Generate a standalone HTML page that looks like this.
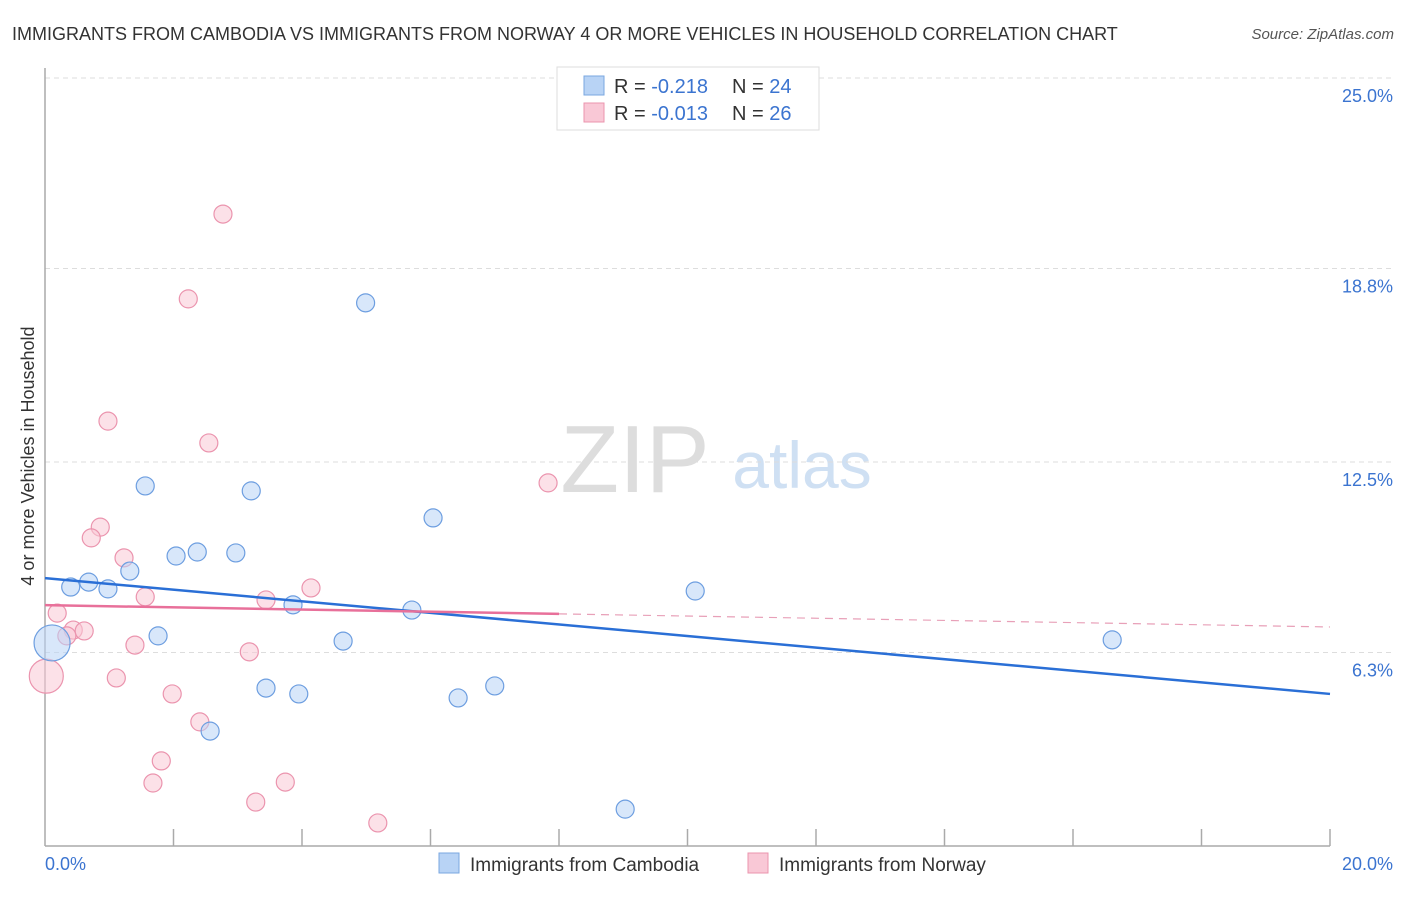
<!DOCTYPE html>
<html><head><meta charset="utf-8"><style>
body{margin:0;background:#fff;font-family:"Liberation Sans",sans-serif;}
svg text{font-family:"Liberation Sans",sans-serif;}
</style></head><body>
<svg width="1406" height="892" viewBox="0 0 1406 892">
<text x="12" y="40" font-size="18" fill="#333">IMMIGRANTS FROM CAMBODIA VS IMMIGRANTS FROM NORWAY 4 OR MORE VEHICLES IN HOUSEHOLD CORRELATION CHART</text>
<text x="1394" y="39" font-size="15" fill="#555" font-style="italic" text-anchor="end">Source: ZipAtlas.com</text>
<text x="635" y="492" font-size="96" fill="#ddd" text-anchor="middle" font-family="Liberation Serif,serif">ZIP</text>
<text x="802" y="488" font-size="66" fill="#cfe0f3" text-anchor="middle">atlas</text>
<g id="grid"></g>
<g id="axes"></g>
<text transform="translate(34,456) rotate(-90)" font-size="18" fill="#333" text-anchor="middle">4 or more Vehicles in Household</text>
<g id="pts"></g>
<g id="lines"></g>
<g>
<rect x="557" y="67" width="262" height="63" fill="#fff" stroke="#ddd"/>
<rect x="584" y="76" width="20" height="19" fill="#b8d3f5" stroke="#7aa7e0"/>
<rect x="584" y="103" width="20" height="19" fill="#f9c8d6" stroke="#eb94ae"/>
<text x="614" y="93" font-size="20" fill="#333">R = <tspan fill="#3b74d0">-0.218</tspan><tspan x="732">N = </tspan><tspan fill="#3b74d0">24</tspan></text>
<text x="614" y="120" font-size="20" fill="#333">R = <tspan fill="#3b74d0">-0.013</tspan><tspan x="732">N = </tspan><tspan fill="#3b74d0">26</tspan></text>
</g>
<g>
<rect x="439" y="853" width="20" height="20" fill="#b8d3f5" stroke="#7aa7e0"/>
<text x="470" y="871" font-size="19" fill="#333">Immigrants from Cambodia</text>
<rect x="748" y="853" width="20" height="20" fill="#f9c8d6" stroke="#eb94ae"/>
<text x="779" y="871" font-size="19" fill="#333">Immigrants from Norway</text>
</g>
</svg>
<script>
const yTicks=[6.3,12.5,18.8,25.0];
const yTickLabels=["6.3%","12.5%","18.8%","25.0%"];
const xTickCount=10;
const xMax=20;
const cambodiaX=[0.40,0.68,0.98,1.32,1.56,1.76,2.04,2.37,2.57,2.97,3.21,3.44,3.86,3.95,4.64,4.99,5.71,6.04,6.43,7.00,9.03,10.12,16.61,0.11];
const cambodiaY=[8.43,8.59,8.37,8.95,11.72,6.84,9.44,9.57,3.74,9.54,11.56,5.14,7.85,4.95,6.67,17.68,7.68,10.68,4.82,5.21,1.20,8.30,6.71,6.61];
const norwayX=[2.77,2.23,0.98,2.55,7.83,0.86,0.72,1.23,4.14,1.56,3.44,0.19,0.44,0.61,0.34,1.40,3.18,1.11,1.98,2.41,1.81,3.74,1.68,3.28,5.18,0.02];
const norwayY=[20.57,17.81,13.83,13.12,11.82,10.38,10.03,9.38,8.40,8.11,8.01,7.58,7.03,7.00,6.84,6.54,6.32,5.47,4.95,4.04,2.77,2.08,2.05,1.43,0.75,5.53];
const cambodiaTrend=[8.72,4.95];
const norwayTrend=[7.84,7.13];
const norwaySolidEnd=8;
const X=v=>45+v*64.25, Y=v=>846-v*30.72;
const NS="http://www.w3.org/2000/svg";
function mk(t,a,p){const e=document.createElementNS(NS,t);for(const k in a)e.setAttribute(k,a[k]);p.appendChild(e);return e;}
const grid=document.getElementById('grid'),axes=document.getElementById('axes'),pts=document.getElementById('pts'),lines=document.getElementById('lines');
yTicks.forEach((t,i)=>{
  const gy=Y(t===25?25:t)-(t===6.3?0:0);
  const l=mk('line',{x1:45,x2:1393,y1:gy,y2:gy,stroke:'#ddd','stroke-dasharray':'5,4'},grid);
  
  
  const tx=mk('text',{x:1393,y:gy+24,'font-size':18,fill:'#3b74d0','text-anchor':'end'},grid);
  tx.textContent=yTickLabels[i];
  
  
});
mk('line',{x1:45,x2:45,y1:68,y2:846,stroke:'#aaa','stroke-width':1.5},axes);
mk('line',{x1:45,x2:1330,y1:846,y2:846,stroke:'#aaa','stroke-width':1.5},axes);
for(let i=1;i<=xTickCount;i++){const x=X(i*xMax/xTickCount);mk('line',{x1:x,x2:x,y1:829,y2:846,stroke:'#aaa','stroke-width':1.5},axes);}
const x0=mk('text',{x:45,y:870,'font-size':18,fill:'#3b74d0'},axes);x0.textContent="0.0%";


const x1=mk('text',{x:1393,y:870,'font-size':18,fill:'#3b74d0','text-anchor':'end'},axes);x1.textContent="20.0%";


function dots(xs,ys,fill,stroke,name,bigR){
  xs.forEach((v,i)=>{
    const r=(i===xs.length-1)?bigR:9;
    const c=mk('circle',{cx:X(v),cy:Y(ys[i]),r:r,fill:fill,'fill-opacity':0.55,stroke:stroke,'stroke-width':1.2},pts);
    
    
  });
}
dots(norwayX,norwayY,'#f9c8d6','#eb94ae','norway-point',17);
dots(cambodiaX,cambodiaY,'#b8d3f5','#6d9ee0','cambodia-point',18);
const bl=mk('line',{x1:X(0),y1:Y(cambodiaTrend[0]),x2:X(xMax),y2:Y(cambodiaTrend[1]),stroke:'#2a6fd6','stroke-width':2.5},lines);


const slope=(norwayTrend[1]-norwayTrend[0])/xMax;
const pm=norwayTrend[0]+slope*norwaySolidEnd;
const pl=mk('line',{x1:X(0),y1:Y(norwayTrend[0]),x2:X(norwaySolidEnd),y2:Y(pm),stroke:'#e8709a','stroke-width':2.5},lines);


const pd=mk('line',{x1:X(norwaySolidEnd),y1:Y(pm),x2:X(xMax),y2:Y(norwayTrend[1]),stroke:'#e8a0b8','stroke-width':1.2,'stroke-dasharray':'8,6'},lines);


</script>
</body></html>
